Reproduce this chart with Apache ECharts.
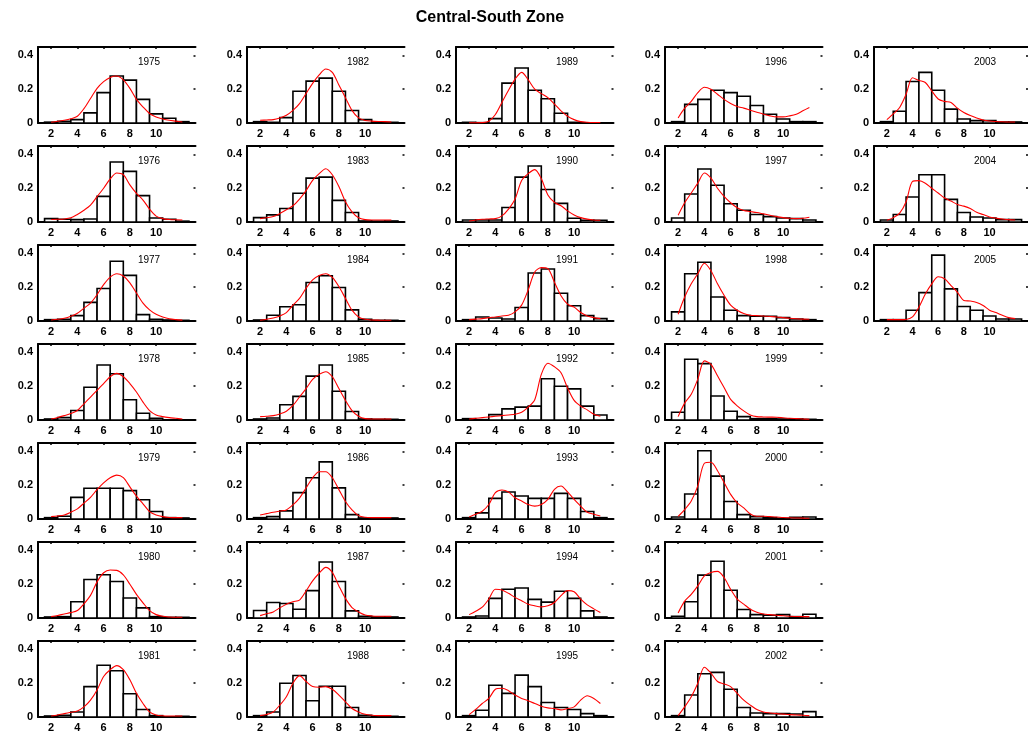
<!DOCTYPE html>
<html>
<head>
<meta charset="utf-8">
<script src="https://cdn.jsdelivr.net/npm/echarts@6/dist/echarts.min.js"></script>
<style>html,body{margin:0;padding:0;background:#fff}#c{width:1028px;height:734px}</style>
</head>
<body>
<div id="c"></div>
<script>
// ---------- data ----------
const years = [1975,1976,1977,1978,1979,1980,1981,1982,1983,1984,1985,1986,1987,1988,1989,1990,1991,1992,1993,1994,1995,1996,1997,1998,1999,2000,2001,2002,2003,2004,2005];
const bins = [2,3,4,5,6,7,8,9,10,11,12];
const curveX = [2,2.5,3,3.5,4,4.5,5,5.5,6,6.5,7,7.5,8,8.5,9,9.5,10,10.5,11,11.5,12];
const xTicks = [2,4,6,8,10];
const yTicks = [0,0.2,0.4];
const title = 'Central-South Zone';

const h1975 = [0.005,0.01,0.02,0.06,0.18,0.278,0.254,0.14,0.054,0.028,0.008];
const k1975 = [0.004,0.01,0.016,0.025,0.04,0.085,0.145,0.205,0.245,0.27,0.278,0.255,0.205,0.14,0.095,0.056,0.035,0.024,0.016,0.011,0.006];
const h1976 = [0.02,0.016,0.014,0.018,0.152,0.355,0.3,0.156,0.024,0.016,0.005];
const k1976 = [0.015,0.016,0.018,0.025,0.045,0.07,0.1,0.15,0.2,0.255,0.29,0.28,0.22,0.17,0.13,0.076,0.035,0.02,0.015,0.013,0.012];
const h1977 = [0.008,0.01,0.032,0.11,0.192,0.354,0.27,0.038,0.01,0.006,0.004];
const k1977 = [0.006,0.01,0.016,0.028,0.046,0.076,0.106,0.156,0.215,0.26,0.28,0.266,0.226,0.166,0.106,0.066,0.04,0.024,0.013,0.008,0.005];
const h1978 = [0.006,0.014,0.056,0.194,0.326,0.274,0.12,0.04,0.01,0,0];
const k1978 = [0.006,0.015,0.026,0.038,0.056,0.096,0.136,0.176,0.216,0.256,0.276,0.256,0.216,0.166,0.106,0.056,0.03,0.02,0.014,0.01,0.006];
const h1979 = [0.008,0.016,0.128,0.182,0.182,0.182,0.168,0.114,0.044,0.008,0.006];
const k1979 = [0.014,0.018,0.024,0.04,0.06,0.094,0.128,0.174,0.214,0.244,0.26,0.245,0.19,0.135,0.09,0.044,0.024,0.014,0.009,0.008,0.008];
const h1980 = [0.006,0.008,0.096,0.228,0.256,0.216,0.118,0.06,0.008,0.004,0.004];
const k1980 = [0.008,0.015,0.024,0.032,0.044,0.084,0.134,0.214,0.268,0.284,0.282,0.255,0.2,0.14,0.09,0.044,0.02,0.01,0.006,0.004,0.004];
const h1981 = [0.006,0.01,0.03,0.18,0.306,0.274,0.138,0.044,0.008,0,0.004];
const k1981 = [0.006,0.012,0.02,0.028,0.036,0.06,0.1,0.16,0.24,0.28,0.304,0.28,0.22,0.14,0.08,0.03,0.012,0.007,0.006,0.006,0.006];
const h1982 = [0.008,0.004,0.032,0.188,0.248,0.266,0.188,0.074,0.02,0.004,0.004];
const k1982 = [0.016,0.018,0.02,0.03,0.046,0.075,0.115,0.175,0.235,0.285,0.32,0.3,0.225,0.15,0.075,0.03,0.015,0.011,0.009,0.008,0.006];
const h1983 = [0.026,0.042,0.08,0.17,0.26,0.266,0.128,0.056,0.006,0.005,0.006];
const k1983 = [0.02,0.025,0.032,0.05,0.072,0.096,0.136,0.186,0.246,0.286,0.315,0.28,0.21,0.12,0.06,0.025,0.014,0.012,0.012,0.012,0.012];
const h1984 = [0.006,0.034,0.084,0.096,0.228,0.268,0.198,0.066,0.01,0.004,0.004];
const k1984 = [0.004,0.01,0.018,0.03,0.05,0.094,0.134,0.194,0.244,0.27,0.28,0.258,0.204,0.134,0.064,0.024,0.01,0.006,0.005,0.004,0.004];
const h1985 = [0.006,0.012,0.09,0.14,0.26,0.326,0.17,0.05,0.006,0.004,0.004];
const k1985 = [0.02,0.022,0.026,0.036,0.052,0.086,0.136,0.186,0.24,0.27,0.286,0.256,0.186,0.116,0.056,0.022,0.008,0.006,0.006,0.006,0.006];
const h1986 = [0.008,0.014,0.048,0.156,0.244,0.338,0.184,0.026,0.006,0.006,0.006];
const k1986 = [0.024,0.032,0.04,0.047,0.054,0.084,0.124,0.184,0.244,0.28,0.28,0.244,0.174,0.104,0.054,0.02,0.01,0.008,0.008,0.008,0.008];
const h1987 = [0.044,0.092,0.086,0.052,0.162,0.332,0.216,0.042,0.01,0.006,0.006];
const k1987 = [0.014,0.025,0.036,0.06,0.082,0.096,0.106,0.16,0.22,0.265,0.3,0.27,0.19,0.116,0.062,0.036,0.018,0.012,0.01,0.01,0.01];
const h1988 = [0.008,0.03,0.2,0.246,0.096,0.182,0.182,0.056,0.01,0.004,0.004];
const k1988 = [0.008,0.015,0.03,0.07,0.12,0.2,0.245,0.21,0.18,0.176,0.18,0.164,0.13,0.09,0.05,0.03,0.016,0.01,0.008,0.008,0.008];
const h1989 = [0.004,0.002,0.026,0.236,0.326,0.194,0.144,0.058,0.004,0,0];
const k1989 = [0.001,0.001,0.002,0.01,0.05,0.122,0.194,0.26,0.3,0.256,0.2,0.174,0.15,0.112,0.072,0.04,0.02,0.008,0.004,0.003,0.003];
const h1990 = [0.012,0.012,0.012,0.086,0.266,0.332,0.192,0.11,0.022,0.01,0.01];
const k1990 = [0.006,0.012,0.016,0.018,0.02,0.036,0.076,0.136,0.246,0.286,0.31,0.256,0.16,0.116,0.096,0.066,0.042,0.026,0.017,0.012,0.01];
const h1991 = [0.008,0.024,0.018,0.012,0.08,0.284,0.308,0.164,0.09,0.032,0.014];
const k1991 = [0.008,0.011,0.014,0.02,0.024,0.03,0.034,0.054,0.094,0.184,0.29,0.316,0.31,0.23,0.15,0.1,0.082,0.05,0.03,0.02,0.014];
const h1992 = [0.008,0.002,0.032,0.066,0.076,0.082,0.244,0.2,0.184,0.082,0.03];
const k1992 = [0.006,0.01,0.014,0.018,0.022,0.026,0.03,0.034,0.046,0.076,0.12,0.27,0.336,0.315,0.28,0.19,0.116,0.082,0.06,0.034,0.022];
const h1993 = [0.008,0.036,0.122,0.16,0.136,0.122,0.122,0.152,0.122,0.044,0.008];
const k1993 = [0.012,0.028,0.046,0.086,0.156,0.172,0.16,0.126,0.106,0.086,0.076,0.086,0.116,0.176,0.195,0.16,0.116,0.076,0.04,0.028,0.018];
const h1994 = [0.006,0.012,0.116,0.17,0.178,0.11,0.094,0.158,0.116,0.042,0.006];
const k1994 = [0.02,0.04,0.064,0.112,0.17,0.166,0.146,0.122,0.102,0.082,0.072,0.066,0.072,0.092,0.132,0.162,0.155,0.112,0.078,0.054,0.032];
const h1995 = [0.008,0.04,0.188,0.14,0.248,0.18,0.086,0.056,0.044,0.02,0.008];
const k1995 = [0.014,0.045,0.08,0.11,0.164,0.17,0.156,0.13,0.11,0.096,0.08,0.064,0.054,0.05,0.042,0.05,0.06,0.1,0.126,0.11,0.08];
const h1996 = [0.008,0.11,0.14,0.194,0.18,0.158,0.104,0.052,0.024,0.008,0.008];
const k1996 = [0.03,0.088,0.128,0.18,0.212,0.2,0.17,0.14,0.116,0.098,0.088,0.076,0.064,0.052,0.042,0.036,0.036,0.042,0.052,0.072,0.092];
const h1997 = [0.024,0.166,0.314,0.218,0.108,0.07,0.044,0.032,0.024,0.02,0.012];
const k1997 = [0.04,0.114,0.172,0.23,0.29,0.26,0.2,0.152,0.114,0.084,0.068,0.062,0.056,0.048,0.04,0.032,0.026,0.022,0.02,0.022,0.028];
const h1998 = [0.054,0.28,0.348,0.142,0.064,0.032,0.028,0.028,0.02,0.012,0.008];
const k1998 = [0.04,0.142,0.22,0.28,0.342,0.298,0.22,0.152,0.094,0.064,0.044,0.034,0.032,0.03,0.027,0.024,0.02,0.016,0.013,0.011,0.01];
const h1999 = [0.046,0.36,0.334,0.142,0.052,0.02,0.008,0.008,0.006,0.006,0.004];
const k1999 = [0.02,0.1,0.152,0.242,0.35,0.33,0.262,0.192,0.122,0.084,0.054,0.03,0.02,0.018,0.017,0.016,0.013,0.01,0.008,0.006,0.004];
const h2000 = [0.012,0.148,0.404,0.254,0.104,0.026,0.014,0.008,0.004,0.01,0.012];
const k2000 = [0.016,0.056,0.106,0.196,0.33,0.336,0.286,0.216,0.146,0.096,0.066,0.03,0.016,0.016,0.014,0.012,0.009,0.007,0.006,0.005,0.004];
const h2001 = [0.01,0.096,0.254,0.336,0.164,0.05,0.02,0.016,0.02,0.008,0.022];
const k2001 = [0.03,0.1,0.14,0.19,0.25,0.27,0.276,0.24,0.17,0.112,0.082,0.052,0.034,0.024,0.02,0.016,0.013,0.01,0.009,0.008,0.008];
const h2002 = [0.008,0.13,0.256,0.264,0.164,0.056,0.024,0.02,0.02,0.018,0.032];
const k2002 = [0.008,0.06,0.12,0.2,0.295,0.26,0.21,0.196,0.18,0.14,0.1,0.07,0.044,0.03,0.024,0.02,0.017,0.014,0.012,0.01,0.008];
const h2003 = [0.008,0.07,0.246,0.3,0.194,0.082,0.024,0.014,0.014,0.006,0.006];
const k2003 = [0.02,0.054,0.092,0.17,0.268,0.252,0.24,0.19,0.142,0.128,0.122,0.088,0.062,0.044,0.03,0.018,0.012,0.009,0.007,0.006,0.006];
const h2004 = [0.012,0.044,0.148,0.28,0.28,0.134,0.056,0.03,0.024,0.014,0.014];
const k2004 = [0.01,0.026,0.052,0.12,0.24,0.245,0.23,0.2,0.172,0.142,0.124,0.104,0.094,0.08,0.058,0.044,0.03,0.023,0.018,0.014,0.012];
const h2005 = [0.008,0.008,0.064,0.168,0.39,0.19,0.086,0.064,0.03,0.012,0.012];
const k2005 = [0.008,0.008,0.008,0.009,0.024,0.082,0.16,0.22,0.262,0.25,0.21,0.17,0.122,0.118,0.11,0.092,0.064,0.05,0.034,0.02,0.014];

const barSets = [h1975,h1976,h1977,h1978,h1979,h1980,h1981,h1982,h1983,h1984,h1985,h1986,h1987,h1988,h1989,h1990,h1991,h1992,h1993,h1994,h1995,h1996,h1997,h1998,h1999,h2000,h2001,h2002,h2003,h2004,h2005];
const curveSets = [k1975,k1976,k1977,k1978,k1979,k1980,k1981,k1982,k1983,k1984,k1985,k1986,k1987,k1988,k1989,k1990,k1991,k1992,k1993,k1994,k1995,k1996,k1997,k1998,k1999,k2000,k2001,k2002,k2003,k2004,k2005];

// ---------- layout ----------
const FONT = '"Liberation Sans", Arial, sans-serif';
const colStep = 209, rowStep = 99, left0 = 38, top0 = 47, W = 157.5, H = 76;
const grids = [], xAxes = [], yAxes = [], series = [], texts = [];

years.forEach((yr, i) => {
  const col = Math.floor(i / 7), row = i % 7;
  const L = left0 + col * colStep, T = top0 + row * rowStep;
  grids.push({left: L, top: T, width: W, height: H, containLabel: false});
  const axLine = {show: true, onZero: false, lineStyle: {color: '#000', width: 2}};
  xAxes.push({gridIndex: i, type: 'value', min: 1, max: 13, position: 'bottom',
    axisLine: axLine, axisTick: {show: false}, splitLine: {show: false},
    axisLabel: {customValues: xTicks, color: '#000', fontSize: 11, fontWeight: 'bold', fontFamily: FONT, margin: 5}});
  xAxes.push({gridIndex: i, type: 'value', min: 1, max: 13, position: 'top',
    axisLine: axLine, axisTick: {show: true, inside: true, length: 2, customValues: xTicks, lineStyle: {color: '#000', width: 1.5}},
    axisLabel: {show: false}, splitLine: {show: false}});
  yAxes.push({gridIndex: i, type: 'value', min: 0, max: 0.45, position: 'left',
    axisLine: axLine, axisTick: {show: false}, splitLine: {show: false},
    axisLabel: {customValues: yTicks, formatter: v => String(v), color: '#000', fontSize: 11, fontWeight: 'bold', fontFamily: FONT, margin: 5}});
  yAxes.push({gridIndex: i, type: 'value', min: 0, max: 0.45, position: 'right',
    axisLine: {show: false}, axisTick: {show: true, inside: true, length: 2, customValues: [0.2, 0.4], lineStyle: {color: '#000', width: 1.5}},
    axisLabel: {show: false}, splitLine: {show: false}});

  series.push({
    type: 'custom', xAxisIndex: 2 * i, yAxisIndex: 2 * i,
    data: bins.map((b, j) => [b, barSets[i][j]]),
    encode: {x: 0, y: 1},
    renderItem: (params, api) => {
      const x = api.value(0), v = api.value(1);
      const p0 = api.coord([x - 0.5, v]);
      const p1 = api.coord([x + 0.5, 0]);
      return {type: 'rect', shape: {x: p0[0], y: p0[1], width: p1[0] - p0[0], height: p1[1] - p0[1]},
        style: {fill: '#fff', stroke: '#000', lineWidth: 1.6}};
    },
    z: 2, silent: true
  });
  series.push({
    type: 'line', xAxisIndex: 2 * i, yAxisIndex: 2 * i,
    data: curveX.map((x, j) => [x, curveSets[i][j]]),
    smooth: 0.3, showSymbol: false, symbol: 'none',
    lineStyle: {color: '#ff0000', width: 1.1}, z: 3, silent: true
  });
  texts.push({type: 'text', x: L + 111, y: T + 15,
    style: {text: String(yr), fill: '#000', font: 'normal 10px ' + FONT, textAlign: 'center', textVerticalAlign: 'middle'}});
});

texts.push({type: 'text', x: 490, y: 18,
  style: {text: title, fill: '#000', font: 'bold 16px ' + FONT, textAlign: 'center', textVerticalAlign: 'middle'}});

const chart = echarts.init(document.getElementById('c'), null, {renderer: 'canvas'});
chart.setOption({
  animation: false,
  backgroundColor: '#fff',
  grid: grids, xAxis: xAxes, yAxis: yAxes, series: series,
  graphic: texts
});
</script>
</body>
</html>
